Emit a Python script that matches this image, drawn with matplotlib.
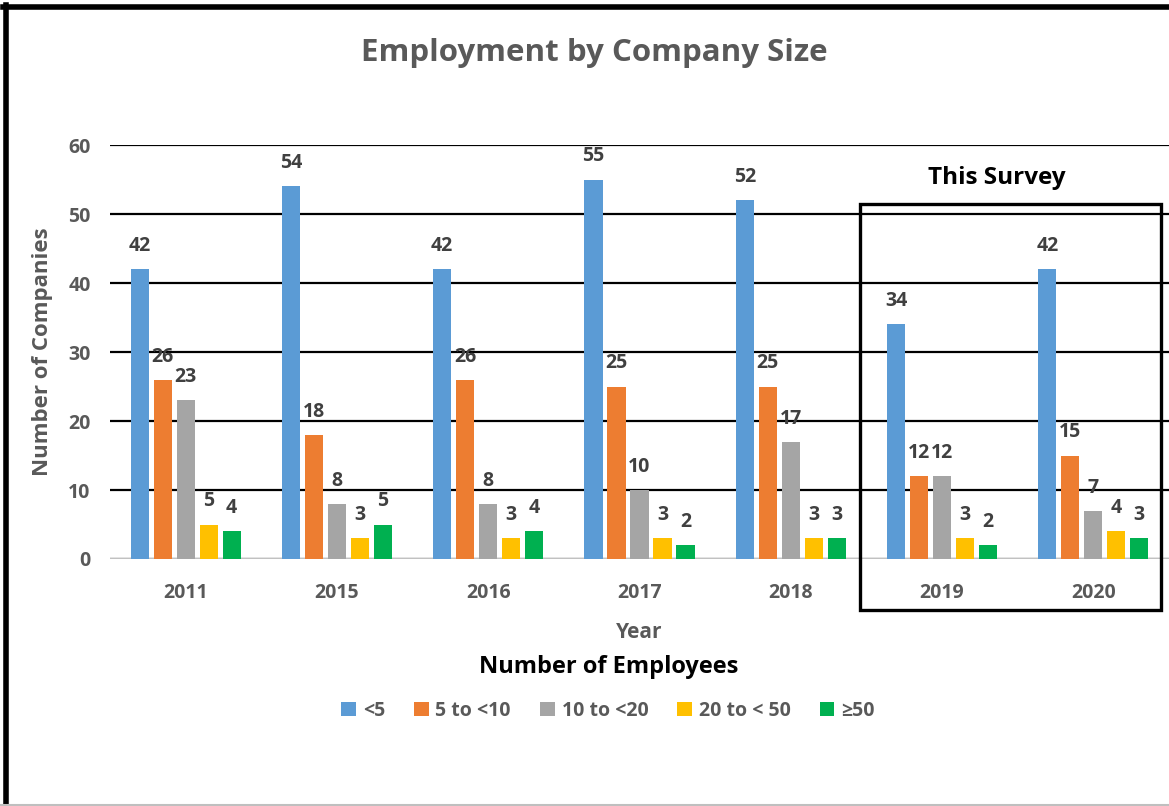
import numpy as np
import matplotlib.pyplot as plt
from matplotlib.patches import Rectangle
from matplotlib.lines import Line2D

plt.rcParams['font.family'] = ['Open Sans', 'DejaVu Sans']

# Data
years = ['2011', '2015', '2016', '2017', '2018', '2019', '2020']
series_names = ['<5', '5 to <10', '10 to <20', '20 to < 50', '≥50']
lt5 = [42, 54, 42, 55, 52, 34, 42]
s5_10 = [26, 18, 26, 25, 25, 12, 15]
s10_20 = [23, 8, 8, 10, 17, 12, 7]
s20_50 = [5, 3, 3, 3, 3, 3, 4]
ge50 = [4, 5, 4, 2, 3, 2, 3]
colors = ['#5B9BD5', '#ED7D31', '#A5A5A5', '#FFC000', '#00B050']

W, H = 1169, 806
fig = plt.figure(figsize=(W / 100, H / 100), dpi=100)
ax = fig.add_axes([110 / W, 1 - 559 / H, 1 - 110 / W, (559 - 145) / H])

x = np.arange(len(years))
step = 0.152
width = 0.12
all_series = [lt5, s5_10, s10_20, s20_50, ge50]
for i, (vals, name, c) in enumerate(zip(all_series, series_names, colors)):
    pos = x + (i - 2) * step
    bars = ax.bar(pos, vals, width, color=c, label=name, zorder=3)
    for b, v in zip(bars, vals):
        ax.annotate(str(v), (b.get_x() + b.get_width() / 2, v),
                    xytext=(0, 13), textcoords='offset points',
                    ha='center', va='baseline', fontsize=14,
                    fontweight='bold', color='#404040', zorder=4)

ax.set_xlim(-0.5, 6.5)
ax.set_ylim(0, 60)
ax.set_yticks(range(0, 61, 10))
ax.set_xticks(x)
ax.set_xticklabels(years)
for s in ax.spines.values():
    s.set_visible(False)
ax.tick_params(axis='both', length=0, labelsize=14, labelcolor='#595959')
ax.tick_params(axis='x', pad=17)
ax.tick_params(axis='y', pad=14)
for lab in ax.get_xticklabels() + ax.get_yticklabels():
    lab.set_fontweight('bold')
ax.yaxis.grid(True, color='black', linewidth=1.6, zorder=0)
ax.set_axisbelow(True)
ax.axhline(0, color='#D9D9D9', linewidth=2, zorder=2)

ax.set_xlabel('Year', fontsize=15, fontweight='bold', color='#595959', labelpad=14)
ax.set_ylabel('Number of Companies', fontsize=16, fontweight='bold', color='#595959', labelpad=11)

fig.text(594 / W, 1 - 53 / H, 'Employment by Company Size', ha='center', va='center',
         fontsize=22.5, fontweight='bold', color='#595959')

# "This Survey" highlight box
fig.text(997 / W, 1 - 178 / H, 'This Survey', ha='center', va='center',
         fontsize=17.5, fontweight='bold', color='black')
fig.patches.append(Rectangle((860 / W, 1 - 610 / H), (1161 - 860) / W, (610 - 204) / H,
                             transform=fig.transFigure, fill=False,
                             edgecolor='black', linewidth=2.4, zorder=10))

# legend with its title as separate text
fig.text(609 / W, 1 - 667 / H, 'Number of Employees', ha='center', va='center',
         fontsize=17, fontweight='bold', color='black')
leg = fig.legend(loc='center', bbox_to_anchor=(608 / W, 1 - 711 / H), ncol=5,
                 frameon=False, handlelength=0.75, handleheight=0.75,
                 handletextpad=0.35, columnspacing=1.5,
                 prop={'size': 14, 'weight': 'bold'})
for t in leg.get_texts():
    t.set_color('#595959')

# outer frame of the original screenshot
fig.add_artist(Line2D([3 / W, 1], [1 - 7 / H, 1 - 7 / H], transform=fig.transFigure,
                      color='black', linewidth=4))
fig.add_artist(Line2D([6 / W, 6 / W], [0, 1 - 5 / H], transform=fig.transFigure,
                      color='black', linewidth=4))
fig.add_artist(Line2D([0, 1], [1 / H, 1 / H], transform=fig.transFigure,
                      color='#BFBFBF', linewidth=1.5))

fig.savefig('out.png', dpi=100)
